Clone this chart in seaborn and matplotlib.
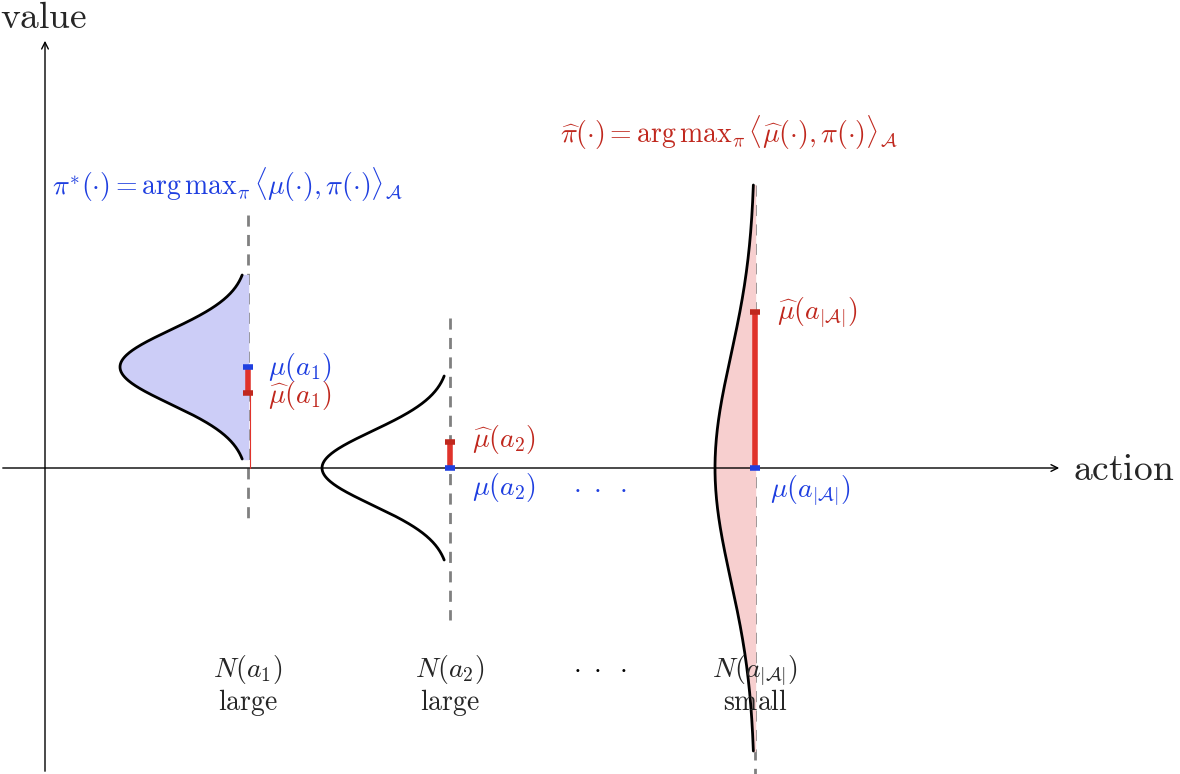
import numpy as np
import matplotlib
matplotlib.use("Agg")
import matplotlib.pyplot as plt
import seaborn as sns

sns.set_theme(style="white")
plt.rcParams['mathtext.fontset'] = 'cm'
plt.rcParams['font.family'] = ['DejaVu Serif']

# data (pixel-like diagram units, y downward)
actions_x = [248, 450, 755]
mu = [367, 468, 468]
muhat = [393, 442, 312]
peak_y = [367, 468, 468]
width = [128, 128, 40]
sigma = [37, 37, 112]
half_span = [92, 92, 283]
dash_span = [(215, 520), (318, 620), (185, 774)]
fills = ['#cccdf7', None, '#f7cfcf']
mu_labels = [r'$\mu(a_1)$', r'$\mu(a_2)$', r'$\mu(a_{|\mathcal{A}|})$']
muhat_labels = [r'$\widehat{\mu}(a_1)$', r'$\widehat{\mu}(a_2)$', r'$\widehat{\mu}(a_{|\mathcal{A}|})$']
n_labels = [r'$N(a_1)$', r'$N(a_2)$', r'$N(a_{|\mathcal{A}|})$']
size_labels = ['large', 'large', 'small']

BLUE = '#1f3fe0'
RED = '#c0281e'
BAR = '#e0332b'
FS = 20

fig = plt.figure(figsize=(11.8, 7.74), dpi=100)
ax = fig.add_axes([0, 0, 1, 1])
ax.set_xlim(0, 1180)
ax.set_ylim(774, 0)
ax.axis('off')

ax.annotate('', xy=(1062, 468), xytext=(0, 468),
            arrowprops=dict(arrowstyle='->', lw=1, color='black'))
ax.annotate('', xy=(45, 38), xytext=(45, 774),
            arrowprops=dict(arrowstyle='->', lw=1, color='black'))
ax.text(0, 18, r'$\mathrm{value}$', fontsize=27, va='center', ha='left')
ax.text(1073, 470, r'$\mathrm{action}$', fontsize=27, va='center', ha='left')

for i, x0 in enumerate(actions_x):
    y0, y1 = dash_span[i]
    ax.plot([x0, x0], [y0, y1], ls=(0, (4, 3)), color='gray', lw=2, zorder=1)
    ys = np.linspace(peak_y[i] - half_span[i], peak_y[i] + half_span[i], 300)
    xs = x0 - width[i] * np.exp(-(ys - peak_y[i]) ** 2 / (2 * sigma[i] ** 2))
    if fills[i]:
        ax.fill_betweenx(ys, xs, x0, color=fills[i], zorder=2)
    ax.plot(xs, ys, color='black', lw=2, zorder=3)
    ax.plot([x0, x0], [mu[i], muhat[i]], color=BAR, lw=4, zorder=4, solid_capstyle='butt')
    ax.plot([x0 - 5, x0 + 5], [mu[i], mu[i]], color=BLUE, lw=4, zorder=5, solid_capstyle='butt')
    ax.plot([x0 - 5, x0 + 5], [muhat[i], muhat[i]], color=RED, lw=4, zorder=5, solid_capstyle='butt')
    ax.text(x0, 670, n_labels[i], fontsize=FS, ha='center', va='center')
    ax.text(x0, 702, r'$\mathrm{' + size_labels[i] + '}$', fontsize=FS, ha='center', va='center')

ax.plot([250, 250], [muhat[0], 468], color=BAR, lw=0.8, zorder=4)

ax.text(268, 367, mu_labels[0], color=BLUE, fontsize=FS, va='center')
ax.text(268, 395, muhat_labels[0], color=RED, fontsize=FS, va='center')
ax.text(472, 440, muhat_labels[1], color=RED, fontsize=FS, va='center')
ax.text(472, 487, mu_labels[1], color=BLUE, fontsize=FS, va='center')
ax.text(777, 312, muhat_labels[2], color=RED, fontsize=FS, va='center')
ax.text(770, 490, mu_labels[2], color=BLUE, fontsize=FS, va='center')
ax.text(600, 487, r'$\cdot\ \cdot\ \cdot$', color=BLUE, fontsize=FS, ha='center', va='center')
ax.text(600, 668, r'$\cdot\ \cdot\ \cdot$', color='black', fontsize=FS, ha='center', va='center')

ax.text(52, 185, r'$\pi^{*}(\cdot) = \mathrm{arg\,max}_{\pi}\, \langle \mu(\cdot), \pi(\cdot)\rangle_{\mathcal{A}}$',
        color=BLUE, fontsize=FS, va='center')
ax.text(560, 133, r'$\widehat{\pi}(\cdot) = \mathrm{arg\,max}_{\pi}\, \langle \widehat{\mu}(\cdot), \pi(\cdot)\rangle_{\mathcal{A}}$',
        color=RED, fontsize=FS, va='center')

fig.savefig('out.png', dpi=100)
